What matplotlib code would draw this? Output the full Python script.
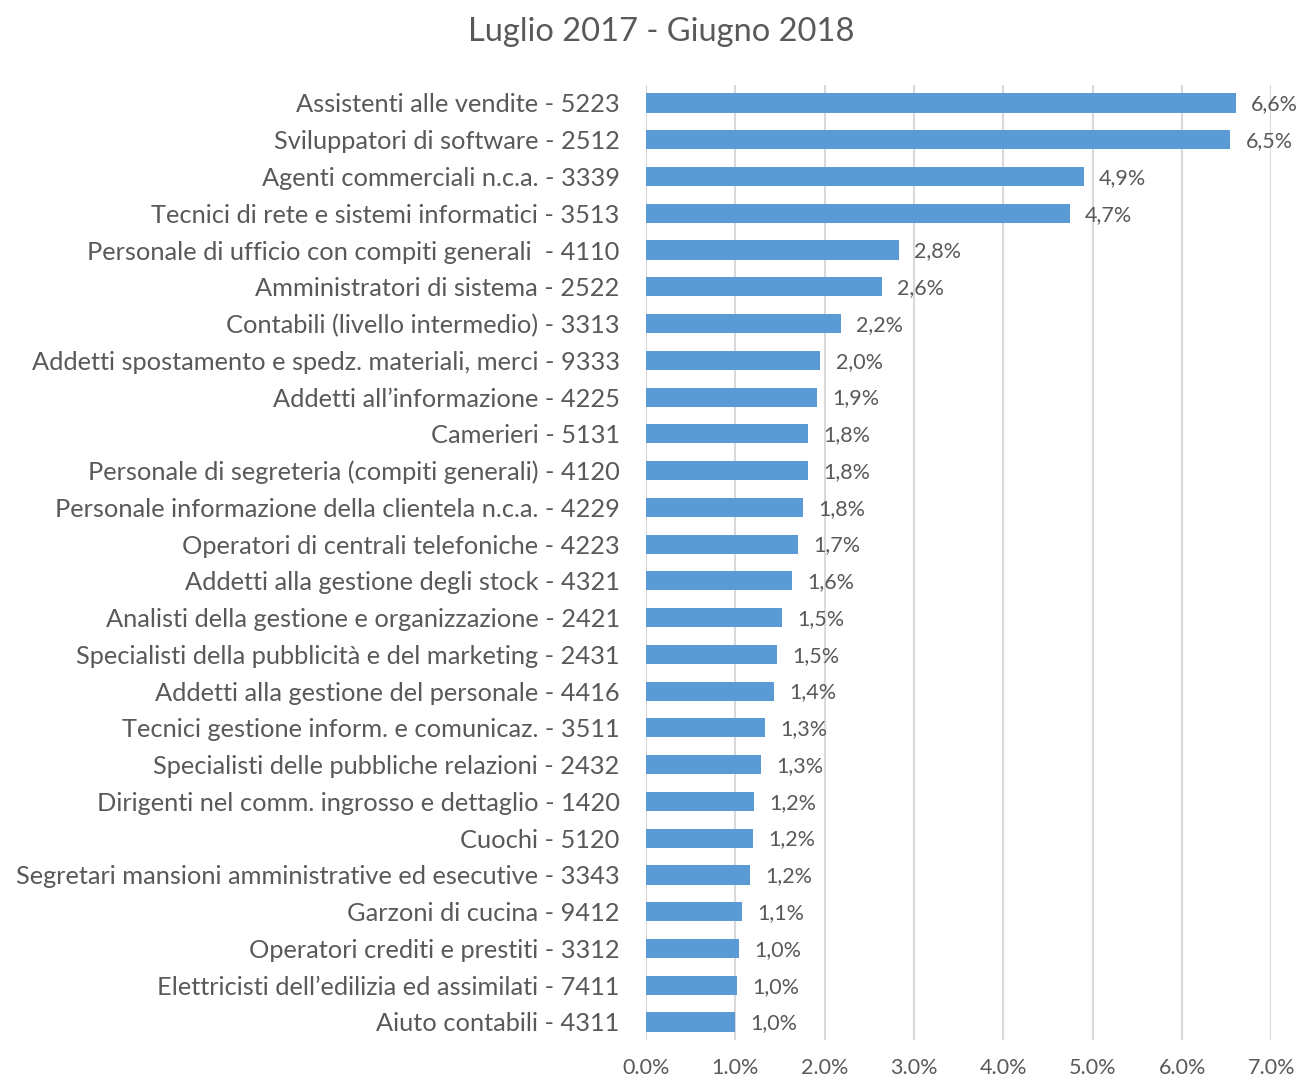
import matplotlib
matplotlib.use("Agg")
import matplotlib.pyplot as plt
from matplotlib.ticker import FuncFormatter

categories = [
    "Assistenti alle vendite - 5223",
    "Sviluppatori di software - 2512",
    "Agenti commerciali n.c.a. - 3339",
    "Tecnici di rete e sistemi informatici - 3513",
    "Personale di ufficio con compiti generali  - 4110",
    "Amministratori di sistema - 2522",
    "Contabili (livello intermedio) - 3313",
    "Addetti spostamento e spedz. materiali, merci - 9333",
    "Addetti all\u2019informazione - 4225",
    "Camerieri - 5131",
    "Personale di segreteria (compiti generali) - 4120",
    "Personale informazione della clientela n.c.a. - 4229",
    "Operatori di centrali telefoniche - 4223",
    "Addetti alla gestione degli stock - 4321",
    "Analisti della gestione e organizzazione - 2421",
    "Specialisti della pubblicit\u00e0 e del marketing - 2431",
    "Addetti alla gestione del personale - 4416",
    "Tecnici gestione inform. e comunicaz. - 3511",
    "Specialisti delle pubbliche relazioni - 2432",
    "Dirigenti nel comm. ingrosso e dettaglio - 1420",
    "Cuochi - 5120",
    "Segretari mansioni amministrative ed esecutive - 3343",
    "Garzoni di cucina - 9412",
    "Operatori crediti e prestiti - 3312",
    "Elettricisti dell\u2019edilizia ed assimilati - 7411",
    "Aiuto contabili - 4311",
]
values = [6.60, 6.54, 4.90, 4.74, 2.83, 2.64, 2.18, 1.95, 1.91, 1.81, 1.81,
          1.76, 1.70, 1.63, 1.52, 1.46, 1.43, 1.33, 1.29, 1.21, 1.20, 1.16,
          1.07, 1.04, 1.02, 1.00]
value_labels = ["6,6%", "6,5%", "4,9%", "4,7%", "2,8%", "2,6%", "2,2%", "2,0%",
                "1,9%", "1,8%", "1,8%", "1,8%", "1,7%", "1,6%", "1,5%", "1,5%",
                "1,4%", "1,3%", "1,3%", "1,2%", "1,2%", "1,2%", "1,1%", "1,0%",
                "1,0%", "1,0%"]
title = "Luglio 2017 - Giugno 2018"
xticks = [0, 1, 2, 3, 4, 5, 6, 7]

plt.rcParams['font.family'] = ['Lato', 'DejaVu Sans']
txt = "#595959"

fig = plt.figure(figsize=(13, 10.79), dpi=100)
ax = fig.add_axes([0.497, 0.0358, 0.978 - 0.497, 0.9216 - 0.0358])

y = list(range(len(categories)))
ax.barh(y, values, height=0.52, color="#5B9BD5", zorder=3)
ax.set_ylim(len(categories) - 0.5, -0.5)
ax.set_xlim(0, 7)
ax.set_yticks(y)
ax.set_yticklabels(categories, fontsize=18.3, color=txt)
ax.set_xticks(xticks)
ax.xaxis.set_major_formatter(FuncFormatter(lambda v, p: f"{v:.1f}%"))
ax.tick_params(axis='x', labelsize=15.5, colors=txt, length=0, pad=13)
ax.tick_params(axis='y', length=0, pad=19)
ax.grid(axis='x', color="#D9D9D9", linewidth=1.5, zorder=0)
for s in ax.spines.values():
    s.set_visible(False)

for yi, v, lab in zip(y, values, value_labels):
    ax.annotate(lab, (v, yi), xytext=(11, -1), textcoords='offset points',
                va='center', ha='left', fontsize=15.5, color=txt)

fig.text(661 / 1300, 1 - 32 / 1079, title, ha='center', va='center', fontsize=23.5, color=txt)

fig.savefig("out.png", dpi=100)
